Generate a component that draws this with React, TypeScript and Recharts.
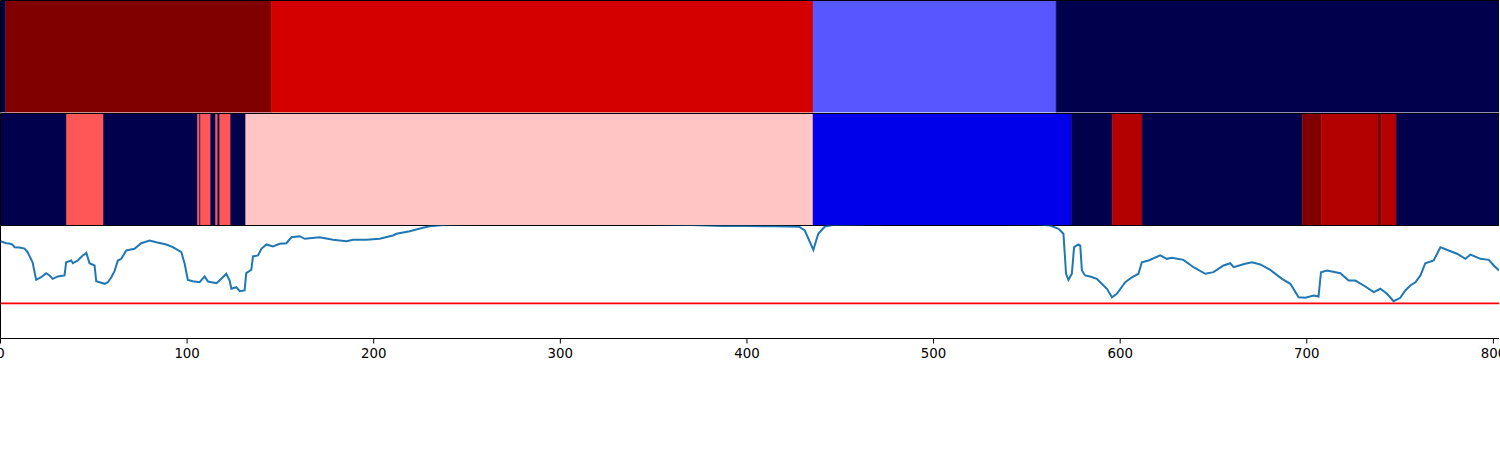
import {
  ComposedChart,
  Line,
  XAxis,
  YAxis,
  ReferenceArea,
  ReferenceLine,
} from 'recharts'

const X_MAX = 803

// band 1: segment edges and colormap levels (-1 .. 1)
const topEdges = [0, 2.7, 145.3, 435.4, 565.7, 803]
const topLevels = [-1, 1, 0.67, -0.33, -1]

// band 2
const midEdges = [
  0, 35.4, 55.2, 105.6, 106.7, 107.2, 112.6, 115.3, 116.4, 117.5, 123.3, 131.4,
  435.4, 573.8, 595.7, 611.8, 697.6, 707.8, 737.8, 740, 748, 803,
]
const midLevels = [
  -1, 0.33, -1, 0.33, -1, 0.33, -1, 0.33, -1, 0.33, -1, 0.115, -0.56, -1, 0.8,
  -1, 1, 0.8, 1, 0.8, -1,
]

// score line
const lineX = [
  0, 3.1, 4.8, 6.4, 7.5, 10.2, 12.9, 14.5, 17.2, 19.1, 21.8, 24.5, 26.3, 28.0,
  30.7, 34.3, 35.2, 37.9, 38.8, 41.4, 44.1, 46.0, 47.7, 50.4, 51.3, 53.1, 55.8,
  57.5, 59.4, 61.1, 62.9, 64.7, 67.4, 69.2, 71.8, 75.4, 79.9, 83.5, 88.8, 92.4,
  96.9, 98.7, 100.4, 103.1, 106.7, 109.4, 111.2, 115.7, 117.4, 121.0, 122.8,
  123.7, 126.4, 128.2, 130.8, 131.7, 134.4, 135.3, 138.0, 139.8, 142.5, 146.0,
  149.6, 153.2, 155.9, 160.3, 163.0, 171.0, 178.2, 185.4, 188.9, 196.1, 203.2,
  210.3, 212.2, 219.3, 226.4, 230.0, 240, 260, 300, 340, 370, 387, 400, 415,
  428, 431, 435.6, 438.2, 441.8, 446, 500, 555, 562.5, 567.0, 569.6, 571.0,
  572.3, 574.1, 575.3, 577.6, 578.6, 579.5, 581.2, 583.9, 587.5, 589.3, 592.9,
  595.6, 598.2, 602.7, 606.3, 609.8, 611.6, 615.2, 621.4, 625.0, 627.7, 633.9,
  639.3, 645.6, 650.0, 655.4, 659.0, 660.8, 667.0, 670.6, 675.1, 680.4, 686.7,
  691.2, 695.6, 699.2, 703.7, 706.3, 707.6, 710.8, 718.0, 722.4, 726.0, 730.5,
  735.9, 739.4, 743.0, 746.5, 750.1, 752.8, 755.5, 758.2, 760.9, 763.5, 768.0,
  771.6, 776.0, 780.5, 785.0, 787.7, 793.0, 797.5, 800.2, 803,
]
const lineV = [
  0.861, 0.843, 0.841, 0.832, 0.808, 0.805, 0.796, 0.764, 0.675, 0.519, 0.542,
  0.578, 0.558, 0.528, 0.549, 0.558, 0.675, 0.69, 0.666, 0.69, 0.735, 0.758,
  0.666, 0.646, 0.507, 0.498, 0.484, 0.498, 0.542, 0.596, 0.69, 0.705, 0.779,
  0.785, 0.794, 0.843, 0.867, 0.852, 0.832, 0.808, 0.764, 0.661, 0.519, 0.507,
  0.498, 0.549, 0.504, 0.489, 0.513, 0.573, 0.513, 0.44, 0.454, 0.419, 0.425,
  0.578, 0.608, 0.726, 0.735, 0.794, 0.832, 0.814, 0.838, 0.843, 0.896, 0.905,
  0.882, 0.896, 0.873, 0.861, 0.873, 0.873, 0.882, 0.912, 0.927, 0.95, 0.98,
  0.994, 1.008, 1.015, 1.02, 1.015, 1.005, 0.996, 0.995, 0.994, 0.99, 0.956,
  0.785, 0.927, 0.991, 1.005, 1.02, 1.01, 1.0, 0.971, 0.927, 0.573, 0.519,
  0.573, 0.808, 0.832, 0.823, 0.602, 0.558, 0.549, 0.528, 0.498, 0.44, 0.365,
  0.396, 0.498, 0.542, 0.573, 0.675, 0.69, 0.735, 0.705, 0.714, 0.696, 0.631,
  0.573, 0.587, 0.646, 0.666, 0.631, 0.661, 0.675, 0.655, 0.608, 0.528, 0.484,
  0.365, 0.36, 0.381, 0.372, 0.587, 0.602, 0.578, 0.513, 0.513, 0.469, 0.41,
  0.44, 0.396, 0.33, 0.36, 0.425, 0.469, 0.498, 0.558, 0.666, 0.69, 0.808,
  0.779, 0.75, 0.705, 0.743, 0.705, 0.696, 0.646, 0.602,
]
const threshold = 0.31
const xTicks = [0, 100, 200, 300, 400, 500, 600, 700, 800]

const lineData = lineX.map((x, i) => ({ x, v: lineV[i] }))
const edgeData = [{ x: 0 }, { x: X_MAX }]

// matplotlib "seismic" colormap, level in [-1, 1]
function seismic(level: number) {
  const t = (level + 1) / 2
  let r = 0
  let g = 0
  let b = 0
  if (t < 0.25) {
    b = 0.3 + 0.7 * (t / 0.25)
  } else if (t < 0.5) {
    const f = (t - 0.25) / 0.25
    r = f
    g = f
    b = 1
  } else if (t < 0.75) {
    const f = (t - 0.5) / 0.25
    r = 1
    g = 1 - f
    b = 1 - f
  } else {
    r = 1 - 0.5 * ((t - 0.75) / 0.25)
  }
  const h = (n: number) => Math.round(n * 255).toString(16).padStart(2, '0')
  return `#${h(r)}${h(g)}${h(b)}`
}

const W = 1500
const MARGIN_X = { left: 0.5, right: 1 }
const tickFont = { fontFamily: 'DejaVu Sans', fontSize: 13.33, fill: '#000' }

function Band({ edges, levels, bottomLine }: { edges: number[]; levels: number[]; bottomLine?: boolean }) {
  return (
    <ComposedChart
      width={W}
      height={113}
      data={edgeData}
      margin={{ top: 0.5, bottom: 0.5, ...MARGIN_X }}
    >
      <XAxis type="number" dataKey="x" domain={[0, X_MAX]} hide allowDataOverflow />
      <YAxis type="number" domain={[0, 1]} hide allowDataOverflow />
      {levels.map((lv, i) => {
        const c = seismic(lv)
        return (
          <ReferenceArea
            key={i}
            x1={edges[i]}
            x2={edges[i + 1]}
            y1={0}
            y2={1}
            fill={c}
            fillOpacity={1}
            stroke={c}
            strokeWidth={0.5}
            ifOverflow="hidden"
          />
        )
      })}
      <ReferenceLine y={1} stroke="#000" strokeWidth={1} />
      <ReferenceLine x={0} stroke="#000" strokeWidth={1} />
      {bottomLine && <ReferenceLine y={0} stroke="#000" strokeWidth={1} />}
    </ComposedChart>
  )
}

export default function App() {
  return (
    <div style={{ position: 'absolute', left: 0, top: 0, width: W, height: 450, background: '#fff' }}>
      <div style={{ position: 'absolute', left: 0, top: 0 }}>
        <Band edges={topEdges} levels={topLevels} />
      </div>
      <div style={{ position: 'absolute', left: 0, top: 113 }}>
        <Band edges={midEdges} levels={midLevels} bottomLine />
      </div>
      <div style={{ position: 'absolute', left: 0, top: 225 }}>
        <ComposedChart
          width={W}
          height={145}
          data={lineData}
          margin={{ top: 0.5, bottom: 0, ...MARGIN_X }}
        >
          <XAxis
            type="number"
            dataKey="x"
            domain={[0, X_MAX]}
            ticks={xTicks}
            interval={0}
            allowDataOverflow
            height={31.5}
            stroke="#000"
            tickSize={5}
            tickMargin={5}
            tick={tickFont}
            tickLine={{ stroke: '#000' }}
            axisLine={{ stroke: '#000' }}
          />
          <YAxis type="number" domain={[0, 1]} hide allowDataOverflow />
          <ReferenceLine y={threshold} stroke="#ff0000" strokeWidth={1.8} />
          <ReferenceLine x={0} stroke="#000" strokeWidth={1} />
          <Line
            type="linear"
            dataKey="v"
            stroke="#1f77b4"
            strokeWidth={2}
            dot={false}
            isAnimationActive={false}
          />
        </ComposedChart>
      </div>
    </div>
  )
}
